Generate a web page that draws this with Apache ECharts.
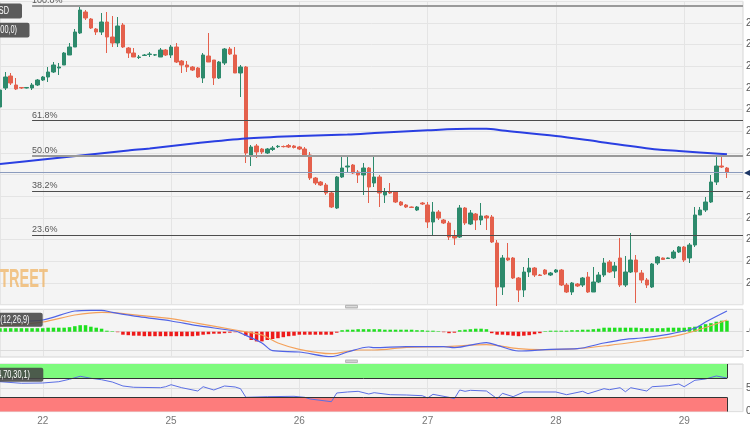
<!DOCTYPE html>
<html><head><meta charset="utf-8">
<script src="https://cdn.jsdelivr.net/npm/echarts@6/dist/echarts.min.js"></script>
<style>html,body{margin:0;padding:0;background:#fff}#c{width:750px;height:430px}</style>
</head><body><div id="c"></div>
<script>
// ---- time slots (hourly candles) ----
const dayNames = ['21','22','25','26','27','28','29'];
const firstHour = 16;
const slotCount = 140;
const categories = Array.from({length: slotCount}, (_, i) => {
  const h = i + firstHour;
  return dayNames[Math.floor(h / 24)] + ' ' + String(h % 24).padStart(2, '0') + ':00';
});
const isDayStart = i => (i + firstHour) % 24 === 0;

// ---- XAU/USD hourly OHLC ----
const open = [2349.25,2354,2357,2354.75,2354.13,2354,2354,2354.75,2356,2356.75,
2358,2359,2359.75,2362.25,2364.25,2367.75,2373,2371.25,2368.75,2368,
2370.5,2366.75,2365.25,2369.75,2364,2362.75,2361.63,2362.13,2362.38,2362.25,
2361.75,2363.5,2362.25,2364.25,2360.75,2359.75,2359.25,2359,2356.5,2362,
2361,2356.5,2360.25,2363.75,2362.25,2357.75,2359.25,2337.25,2339.5,2338.75,
2337.75,2338.63,2339.33,2339.38,2339.63,2339.5,2339.25,2338.75,2337.25,2331.5,
2330.5,2329.75,2327.75,2324,2331.75,2334.25,2334.75,2333,2332.25,2334,
2330.25,2331.75,2327.25,2328,2328,2325.5,2324.75,2324.25,2323.5,2325.25,
2324.75,2320.5,2323,2321,2320.25,2317,2316.75,2324,2320,2322.5,
2321,2322,2321.75,2315.25,2304.25,2311.5,2311.5,2306.5,2303.5,2308,
2309,2307.25,2308.5,2307.25,2308,2308.5,2304.75,2303,2305,2304.75,
2306.75,2303,2305.5,2307.25,2310.5,2308.25,2311.5,2304.75,2308,2311,
2307.75,2306,2304.25,2310.25,2311.5,2311.38,2311.5,2313,2314.25,2311.5,
2314.75,2322.25,2323.5,2325.5,2330.5,2334.5,2334];
const close = [2353.5,2356.75,2355.25,2353.75,2354,2354.13,2354.75,2356,2356.75,2358,
2359.75,2359.25,2362.75,2364.25,2368,2373.5,2371.5,2369,2368,2370.5,
2366.75,2365.25,2369.5,2364.25,2362.75,2361.75,2361.75,2362.25,2362.5,2362.3,
2363.5,2362.25,2364.25,2360.5,2359.75,2359.25,2358.5,2356.75,2362.25,2360.5,
2356.5,2360.5,2363.75,2362.5,2357.75,2359.25,2337.75,2339.25,2338,2338,
2338.75,2339,2339.43,2339.33,2339.25,2339.13,2338.75,2337.25,2331.5,2330.25,
2329.75,2327.75,2324.25,2331.75,2334,2334.5,2332.75,2332.25,2334,2329.25,
2331.75,2327.75,2328,2327.75,2325.5,2324.75,2324.25,2324.13,2324.25,2325,
2320.5,2323,2321.5,2320.25,2316.75,2316.5,2324,2320.25,2322.75,2321,
2322,2321.5,2315.5,2304.25,2311.5,2311,2306.5,2303.5,2308,2309,
2307.25,2307.13,2307.5,2307.75,2308.5,2304.75,2303,2305.25,2304.5,2306.5,
2303,2305.5,2307.25,2310.25,2308,2309.5,2304.75,2308,2311,2308,
2306,2304.75,2310,2311.75,2311.13,2311.5,2313,2314.25,2311,2314.75,
2322.25,2323.5,2325.5,2330.5,2334.5,2334.25,2332.88];
const low = [2348.5,2353.5,2354.75,2353.5,2353.75,2353.88,2353.5,2354.5,2355.75,2355.5,
2357.75,2357.25,2359.75,2362.25,2364.25,2367.5,2371,2368.75,2367.25,2367.25,
2362.75,2364.25,2364.25,2364,2361.5,2361.75,2361.25,2362,2361.75,2362,
2361.75,2362,2361.5,2360.25,2357.75,2358,2358.25,2356.5,2355.25,2360.5,
2354.75,2356.25,2359.75,2362.25,2357.75,2351.75,2335.25,2334.5,2336.5,2337.5,
2337.5,2338.25,2339,2339.13,2339,2338.88,2338.5,2337,2331,2329.75,
2329.5,2327.25,2324,2323.75,2331.5,2333,2332.5,2330.25,2327.25,2325.25,
2329.25,2324.25,2325.25,2327.5,2325.25,2324.5,2324,2324,2323.25,2324.75,
2319,2317.25,2321,2320,2316,2314.75,2316.5,2319.75,2319.75,2318.5,
2319.75,2318.5,2315.25,2299.5,2302.25,2310.75,2306.25,2300.5,2301.75,2306.75,
2306.75,2307,2307.25,2307,2307.75,2304.5,2302.75,2302.25,2304.25,2304.25,
2302.75,2303,2305.25,2306.75,2307.75,2306.5,2304.25,2304.25,2307.75,2300.25,
2305.25,2304,2304,2309.75,2311,2311.25,2311.25,2312.75,2310.5,2310.25,
2314.25,2322.25,2323,2325.25,2329.75,2334,2331.5];
const high = [2354,2358,2357.75,2356.5,2354.25,2354.25,2355.25,2356.25,2357,2359.25,
2360.5,2360.25,2363,2365.25,2368.75,2374.5,2373.5,2371.5,2369,2372.75,
2373,2372,2371.75,2370.25,2364.25,2364,2362.25,2362.5,2363,2362.5,
2364,2363.75,2364.75,2365.25,2361,2360.75,2359.5,2359.25,2362.75,2367.75,
2361,2360.75,2364,2364.25,2364.25,2359.75,2359.5,2339.75,2340,2339,
2339,2339.5,2339.75,2339.63,2340,2339.75,2339.5,2339.25,2338,2331.75,
2330.75,2330.25,2328.25,2332,2337.25,2336.75,2335,2333.5,2335.25,2334.25,
2336.75,2332.25,2329,2330.25,2328.25,2325.75,2325,2324.38,2324.5,2325.5,
2325.5,2325.5,2323.5,2321.25,2320.75,2318.5,2324.75,2324.25,2323.5,2322.75,
2325.25,2322.25,2322.25,2316,2312.25,2315.25,2311.75,2306.75,2309.25,2311.5,
2309.25,2307.5,2308.75,2308,2308.75,2308.75,2305.25,2305.5,2305.25,2306.75,
2308,2309.25,2308,2311.5,2311,2310.5,2316.5,2312,2317.75,2312.25,
2308.5,2306.5,2310.25,2312,2311.63,2311.63,2313.5,2314.5,2314.5,2315.25,
2324.25,2324.25,2326.75,2332.25,2336.75,2336.75,2334.25];

// ---- SMA(200) (read at selected candles) ----
const smaIdx = [0,8,16,24,28,37,46,56,65,71,80,88,91,94,104,112,123,127,136];
const smaVal = [2335.0,2336.13,2337.25,2338.38,2338.88,2340.25,2341.38,2342.0,2342.38,2342.83,2343.43,2343.8,2343.8,2343.38,2342.0,2340.58,2338.63,2338.25,2337.43];

// ---- Fibonacci retracement ----
const fibSwingHigh = 2374.5;
const fibSwingLow = 2299.5;
const fibRatios = [1, 0.618, 0.5, 0.382, 0.236, 0];
const fibLabels = ['100.0%', '61.8%', '50.0%', '38.2%', '23.6%', '0.0%'];
const fibStartIdx = 6;

// ---- price axis ----
const priceMin = 2299.825, priceMax = 2375.675;
const gridSteps = 14;

// ---- MACD(12,26,9) ----
const macdHist = [0.35,0.35,0.35,0.35,0.35,0.35,0.35,0.35,0.35,0.4,
0.4,0.4,0.4,0.45,0.55,0.65,0.65,0.5,0.4,0.3,
0.1,0.05,-0.05,-0.3,-0.35,-0.4,-0.4,-0.45,-0.45,-0.45,
-0.45,-0.45,-0.45,-0.45,-0.45,-0.45,-0.45,-0.4,-0.3,-0.25,
-0.2,-0.2,-0.15,-0.1,-0.05,-0.05,-0.4,-0.83,-0.97,-0.97,
-0.83,-0.73,-0.65,-0.55,-0.45,-0.4,-0.3,-0.3,-0.3,-0.3,
-0.3,-0.3,-0.3,-0.1,0.15,0.2,0.2,0.25,0.25,0.25,
0.25,0.25,0.2,0.2,0.2,0.2,0.2,0.2,0.15,0.15,
0.1,0.1,0.05,-0.05,-0.15,-0.1,0.15,0.2,0.25,0.3,
0.3,0.25,-0.15,-0.3,-0.3,-0.35,-0.4,-0.45,-0.4,-0.35,
-0.25,-0.15,0.05,0.1,0.1,0.1,0.1,0.15,0.15,0.2,
0.2,0.25,0.3,0.4,0.4,0.4,0.4,0.4,0.4,0.4,
0.35,0.35,0.35,0.35,0.35,0.4,0.4,0.4,0.4,0.45,
0.5,0.6,0.75,0.85,1.0,1.1,1.1];
const macdIdx = [0,8,14,17,19,21,26,32,37,44,45,49,51,56,62,65,69,70,76,83,85,91,93,97,103,108,113,117,120,125,130,132,136];
const macdVal = [1.0,1.17,2.07,2.14,2.14,1.94,1.5,1.07,0.6,0.07,-0.13,-1.13,-1.9,-2.03,-2.5,-2.03,-1.53,-1.6,-1.5,-1.5,-1.6,-1.1,-1.36,-1.93,-1.76,-1.7,-1.13,-0.76,-0.63,-0.26,0.34,0.97,2.07];
const signalIdx = [0,8,14,19,21,26,32,37,44,49,52,56,62,67,70,76,83,91,97,101,108,114,120,126,130,136];
const signalVal = [0.57,0.97,1.67,1.94,1.9,1.64,1.3,0.84,0.17,-0.33,-1.13,-1.76,-2.2,-1.83,-1.83,-1.56,-1.5,-1.3,-1.7,-1.8,-1.7,-1.36,-0.93,-0.46,0.07,1.17];
const macdMin = -2.53, macdMax = 2.24;
const macdGridLevels = [0, -1.9];

// ---- RSI(14,70,30,1) ----
const rsiIdx = [0,4,8,11,13,15,17,19,21,23,25,30,31,32,34,37,38,40,42,44,45,46,50,55,57,58,62,63,65,67,69,70,
73,76,79,80,81,84,85,86,87,88,91,93,94,96,98,104,106,109,110,113,114,116,117,118,121,122,125,127,128,130,132,134,136];
const rsiVal = [62.8,59.5,60.1,62.8,67.9,74.2,70.0,67.0,62.2,53.8,51.1,50.2,52.3,56.5,50.2,43.3,52.3,45.4,53.8,51.7,48.1,30.0,31.3,32.1,30.0,26.5,20.8,39.1,41.2,42.6,37.0,39.7,
35.5,34.9,33.4,28.6,36.3,30.0,27.1,45.4,42.6,44.7,43.3,27.1,38.4,31.3,41.2,41.2,35.5,42.6,37.6,48.1,46.0,50.2,41.8,50.2,43.3,52.3,54.4,58.0,52.3,65.8,68.5,74.8,70.6];
const rsiUpper = 70, rsiLower = 30;

// ---- colours ----
const upColor = '#2d8a6c', downColor = '#e4604c';
const gridBg = '#f4f4f4', gridBorder = '#d6d6d6', splitColor = '#e4e4e4';

const candleData = open.map((o, i) => [o, close[i], low[i], high[i]]);
const lastIdx = open.length - 1;
const lastClose = close[lastIdx];

const fibLines = fibRatios.map((r, k) => {
  const lvl = fibSwingLow + r * (fibSwingHigh - fibSwingLow);
  const strong = (r === 1 || r === 0.5);
  return [
    { coord: [categories[fibStartIdx], lvl],
      lineStyle: { color: strong ? '#9a9a9a' : '#4d4d4d', width: strong ? 2 : 1.2, type: 'solid' },
      label: { show: true, formatter: fibLabels[k], position: 'insideStartTop', distance: [0, 1],
               fontSize: 9, color: '#555', fontFamily: 'Arial' } },
    { coord: [categories[slotCount - 1], lvl] }
  ];
});

const chart = echarts.init(document.getElementById('c'), null, { renderer: 'canvas' });
const dayAxis = (gi, showLabel) => ({
  type: 'category', gridIndex: gi, data: categories, boundaryGap: false,
  axisLine: { show: false }, axisTick: { show: false },
  splitLine: { show: true, interval: (idx) => isDayStart(idx), lineStyle: { color: splitColor, width: 1 } },
  axisLabel: { show: showLabel, interval: (idx) => isDayStart(idx), formatter: v => v.split(' ')[0],
               fontSize: 10, color: '#777', margin: 5, fontFamily: 'Arial' }
});
const gridBase = { left: 0, width: 743, show: true, backgroundColor: gridBg, borderColor: gridBorder, borderWidth: 1,
                   containLabel: false, outerBoundsMode: 'none' };
const boxFont = '10px Arial';
const boxText = (x, y, text) => ({ type: 'text', z: 11, x: x, y: y, scaleX: 0.73,
  style: { text: text, align: 'right', verticalAlign: 'middle', fill: '#fff', font: boxFont } });

chart.setOption({
  animation: false,
  backgroundColor: '#ffffff',
  grid: [
    Object.assign({ top: 1.3, height: 303.4 }, gridBase),
    Object.assign({ top: 309.3, height: 47.7 }, gridBase),
    Object.assign({ top: 364, height: 47.6 }, gridBase)
  ],
  xAxis: [dayAxis(0, false), dayAxis(1, false), dayAxis(2, true)],
  yAxis: [
    { type: 'value', gridIndex: 0, min: priceMin, max: priceMax, show: false, scale: true },
    { type: 'value', gridIndex: 0, min: 0, max: gridSteps, interval: 1, position: 'right',
      axisLine: { show: false }, axisTick: { show: false },
      splitLine: { show: true, lineStyle: { color: splitColor } },
      axisLabel: { showMinLabel: false, showMaxLabel: false, margin: 3, fontSize: 10, color: '#555', fontFamily: 'Arial',
        formatter: v => (v === 6 ? '' : (priceMin + v * (priceMax - priceMin) / gridSteps).toFixed(2)) } },
    { type: 'value', gridIndex: 1, min: macdMin, max: macdMax, show: false },
    { type: 'value', gridIndex: 2, min: 0, max: 100, interval: 50, position: 'right',
      axisLine: { show: false }, axisTick: { show: false },
      splitLine: { show: true, lineStyle: { color: '#e0e0e0' } },
      axisLabel: { showMaxLabel: false, margin: 3, fontSize: 10, color: '#555', fontFamily: 'Arial' } }
  ],
  series: [
    { type: 'candlestick', xAxisIndex: 0, yAxisIndex: 0, data: candleData, barWidth: 4, z: 3,
      itemStyle: { color: upColor, color0: downColor, borderColor: upColor, borderColor0: downColor, borderWidth: 1 },
      markLine: { silent: true, symbol: 'none', animation: false,
        data: fibLines.concat([
          { yAxis: lastClose, lineStyle: { color: '#8b9bbd', width: 1, type: 'solid' },
            label: { show: true, position: 'end', formatter: '\u25C0', color: '#1d3766', fontSize: 12, distance: 1 } }
        ]) } },
    { type: 'line', xAxisIndex: 0, yAxisIndex: 0, data: smaIdx.map((x, k) => [x, smaVal[k]]),
      smooth: 0.3, showSymbol: false, z: 4, lineStyle: { color: '#2a3fe2', width: 2 } },
    { type: 'bar', xAxisIndex: 1, yAxisIndex: 2, data: macdHist, barWidth: 3.5,
      itemStyle: { color: p => (p.value >= 0 ? '#1fe01f' : '#ee1a1a') },
      markLine: { silent: true, symbol: 'none', z: 1,
        data: macdGridLevels.map(v => ({ yAxis: v })),
        lineStyle: { color: '#dcdcdc', width: 1, type: 'solid' },
        label: { show: true, position: 'end', distance: 3, fontSize: 10, color: '#555', fontFamily: 'Arial',
                 formatter: p => (p.value === 0 ? '-0.00' : p.value.toFixed(2)) } } },
    { type: 'line', xAxisIndex: 1, yAxisIndex: 2, data: signalIdx.map((x, k) => [x, signalVal[k]]),
      smooth: 0.3, showSymbol: false, lineStyle: { color: '#f4a25c', width: 1.2 } },
    { type: 'line', xAxisIndex: 1, yAxisIndex: 2, data: macdIdx.map((x, k) => [x, macdVal[k]]),
      smooth: 0.3, showSymbol: false, lineStyle: { color: '#5063e6', width: 1.2 } },
    { type: 'line', xAxisIndex: 2, yAxisIndex: 3, data: rsiIdx.map((x, k) => [x, rsiVal[k]]),
      showSymbol: false, z: 4, lineStyle: { color: '#5a6ee4', width: 1 },
      markArea: { silent: true, data: [
        [{ coord: [categories[0], rsiUpper], itemStyle: { color: '#7efb7e' } }, { coord: [categories[lastIdx], 100] }],
        [{ coord: [categories[0], 0], itemStyle: { color: '#fd7c7c' } }, { coord: [categories[lastIdx], rsiLower] }]
      ] },
      markLine: { silent: true, symbol: 'none', lineStyle: { color: '#333', width: 1, type: 'solid' }, label: { show: false },
        data: [
          [{ coord: [categories[0], rsiUpper] }, { coord: [categories[lastIdx], rsiUpper] }],
          [{ coord: [categories[0], rsiLower] }, { coord: [categories[lastIdx], rsiLower] }],
          [{ coord: [categories[lastIdx], rsiUpper] }, { coord: [categories[lastIdx], 100] }],
          [{ coord: [categories[lastIdx], 0] }, { coord: [categories[lastIdx], rsiLower] }]
        ] } }
  ],
  graphic: [
    { type: 'text', x: 48, y: 280, z: 1, scaleX: 0.585, silent: true,
      style: { text: 'FXSTREET', align: 'right', verticalAlign: 'middle', fill: 'rgba(240,180,100,0.75)',
               font: 'bold 25px "Liberation Sans", Arial' } },
    { type: 'rect', z: 10, shape: { x: -70, y: 3.5, width: 92, height: 15, r: 2 }, style: { fill: 'rgba(70,70,70,0.88)' } },
    boxText(9, 11.5, 'XAU/USD'),
    { type: 'rect', z: 10, shape: { x: -70, y: 22.7, width: 99.5, height: 14.7, r: 2 }, style: { fill: 'rgba(70,70,70,0.88)' } },
    boxText(17, 30.2, 'SMA(200,0)'),
    { type: 'rect', z: 10, shape: { x: -70, y: 312.7, width: 112.7, height: 14, r: 2 }, style: { fill: 'rgba(70,70,70,0.88)' } },
    boxText(29.5, 319.8, 'MACD(12,26,9)'),
    { type: 'rect', z: 10, shape: { x: -70, y: 367.7, width: 113.3, height: 14, r: 2 }, style: { fill: 'rgba(70,70,70,0.88)' } },
    boxText(30, 374.8, 'RSI(14,70,30,1)'),
    { type: 'rect', z: 10, shape: { x: 345, y: 304.8, width: 13, height: 3.6, r: 1 }, style: { fill: '#b8b8b8' } },
    { type: 'line', z: 11, shape: { x1: 346, y1: 306.6, x2: 357, y2: 306.6 }, style: { stroke: '#e8e8e8', lineWidth: 0.8 } },
    { type: 'rect', z: 10, shape: { x: 345, y: 359.4, width: 13, height: 3.6, r: 1 }, style: { fill: '#b8b8b8' } },
    { type: 'line', z: 11, shape: { x1: 346, y1: 361.2, x2: 357, y2: 361.2 }, style: { stroke: '#e8e8e8', lineWidth: 0.8 } }
  ]
});
</script>
</body></html>
